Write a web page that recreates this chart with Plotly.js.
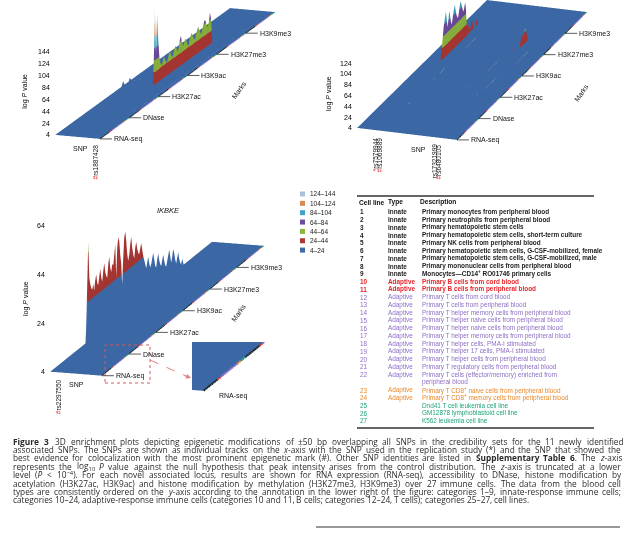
<!DOCTYPE html>
<html><head><meta charset="utf-8">
<script src="https://cdn.plot.ly/plotly-3.0.1.min.js"></script>
<style>html,body{margin:0;padding:0;background:#fff;}#chart{width:631px;height:538px;}</style>
</head><body><div id="chart"></div>
<script>
// ---------- shared categories ----------
const marks = ['RNA-seq','DNase','H3K27ac','H3K9ac','H3K27me3','H3K9me3'];
const cellsPerMark = 27;
const zFloor = 4;
const bandLabels = ['124–144','104–124','84–104','64–84','44–64','24–44','4–24'];
const bandColors = ['#a9c0dc','#d98a52','#42a3c2','#6c4c9c','#8db53f','#ad3733','#3e6cad'];

// ---------- cell-line table ----------
const cellIds = ['1','2','3','4','5','6','7','8','9','10','11','12','13','14','15','16','17','18','19','20','21','22','23','24','25','26','27'];
const cellTypes = ['Innate','Innate','Innate','Innate','Innate','Innate','Innate','Innate','Innate','Adaptive','Adaptive','Adaptive','Adaptive','Adaptive','Adaptive','Adaptive','Adaptive','Adaptive','Adaptive','Adaptive','Adaptive','Adaptive','Adaptive','Adaptive','','',''];
const cellGroups = ['innate','innate','innate','innate','innate','innate','innate','innate','innate','bcell','bcell','tcell','tcell','tcell','tcell','tcell','tcell','tcell','tcell','tcell','tcell','tcell','cd8','cd8','line','line','line'];
const cellDescriptions = [
 'Primary monocytes from peripheral blood',
 'Primary neutrophils from peripheral blood',
 'Primary hematopoietic stem cells',
 'Primary hematopoietic stem cells, short-term culture',
 'Primary NK cells from peripheral blood',
 'Primary hematopoietic stem cells, G-CSF-mobilized, female',
 'Primary hematopoietic stem cells, G-CSF-mobilized, male',
 'Primary mononuclear cells from peripheral blood',
 'Monocytes—CD14<sup>+</sup> RO01746 primary cells',
 'Primary B cells from cord blood',
 'Primary B cells from peripheral blood',
 'Primary T cells from cord blood',
 'Primary T cells from peripheral blood',
 'Primary T helper memory cells from peripheral blood',
 'Primary T helper naive cells from peripheral blood',
 'Primary T helper naive cells from peripheral blood',
 'Primary T helper memory cells from peripheral blood',
 'Primary T helper cells, PMA-I stimulated',
 'Primary T helper 17 cells, PMA-I stimulated',
 'Primary T helper cells from peripheral blood',
 'Primary T regulatory cells from peripheral blood',
 'Primary T cells (effector/memory) enriched from<br>peripheral blood',
 'Primary T CD8<sup>+</sup> naive cells from peripheral blood',
 'Primary T CD8<sup>+</sup> memory cells from peripheral blood',
 'Dnd41 T cell leukemia cell line',
 'GM12878 lymphoblastoid cell line',
 'K562 leukemia cell line'];
const groupNames = ['innate','bcell','tcell','cd8','line'];
const groupColors = ['#1c1c1c','#e5252b','#8f6fc4','#e88a2c','#1ea37c'];

// ---------- panel 1 (rs1887428) ----------
const p1TrackCount = 10;
const p1Snps = ['rs1887428'];
const p1SnpMarks = ['#'];
const p1SnpTracks = [8];
const p1ZTicks = [4,24,44,64,84,104,124,144];
const p1ZMax = 150;
const p1T8DNase    = [4,4,4,6,10,14,18,20,16,12,8,6,4,4,4,8,12,16,14,10,6,4,4,4,6,8,6];
const p1T8H3K27ac  = [60,146,70,138,96,66,52,46,50,58,54,48,44,50,56,60,52,46,50,58,62,56,50,54,66,72,60];
const p1T8H3K9ac   = [52,56,62,58,50,46,54,60,64,58,52,48,56,62,66,60,54,50,58,64,70,66,58,54,62,76,64];
const p1T8H3K27me3 = [20,12,8,6,4,4,6,8,10,8,6,4,4,4,6,8,6,4,4,4,6,4,4,4,4,4,4];
const p1T8H3K9me3  = [4,4,4,6,8,6,4,4,4,4,6,8,10,8,6,4,4,4,4,6,8,6,4,4,4,4,4];
const p1T1H3K27ac  = [4,4,8,14,18,12,6,4,4,10,16,12,6,4,4,4,8,12,8,4,4,4,4,4,4,4,4];

// ---------- panel 2 ----------
const p2TrackCount = 23;
const p2Snps = ['rs7579944','rs1069889','rs17321999','rs6480105'];
const p2SnpMarks = ['*','#','','#'];
const p2SnpTracks = [4,5,17,18];
const p2ZTicks = [4,24,44,64,84,104,124];
const p2ZMax = 130;
const p2T5DNase    = [4,4,4,4,4,4,6,10,12,8,4,4,4,4,4,6,8,6,4,4,4,4,4,4,4,4,4];
const p2T5H3K27ac  = [4,4,4,4,4,4,4,4,4,6,8,10,8,6,4,4,4,4,6,10,16,24,34,48,62,78,88];
const p2T5H3K9ac   = [96,104,88,72,84,98,92,78,70,76,86,94,100,90,80,74,70,78,88,96,92,84,76,72,80,86,70];
const p2T5H3K27me3 = [40,34,38,30,26,32,40,36,28,22,18,26,34,30,24,20,14,10,8,6,4,4,4,4,4,4,4];
const p2T14H3K27ac = [4,4,6,10,14,10,6,4,4,8,12,16,12,8,4,4,6,10,8,4,4,4,6,8,6,4,4];
const p2T14H3K9ac  = [6,10,14,10,6,4,8,12,16,12,8,6,10,14,10,6,4,4,6,8,6,4,4,4,4,4,4];
const p2T17H3K27ac = [4,6,10,14,18,12,8,6,10,16,20,14,8,4,6,12,18,22,16,10,6,4,8,12,10,6,4];
const p2T17H3K9ac  = [8,12,16,20,14,10,6,10,18,24,20,14,8,6,12,18,24,28,20,12,8,6,10,14,10,6,4];
const p2T18H3K9ac  = [6,10,14,12,8,6,10,16,22,18,12,8,14,20,26,22,16,10,14,20,30,38,46,40,30,42,50];
const p2T18H3K27me3= [44,36,28,20,14,10,8,12,18,24,20,14,10,8,6,4,4,4,4,4,4,4,4,4,4,4,4];

// ---------- panel 3 (IKBKE) ----------
const p3Title = 'IKBKE';
const p3TrackCount = 7;
const p3Snps = ['rs2297550'];
const p3SnpMarks = ['#'];
const p3SnpTracks = [1];
const p3ZTicks = [4,24,44,64];
const p3ZMax = 64;
const p3T1DNase    = [4,4,48,33,30,28,27,29,26,30,32,28,27,30,33,29,27,31,34,30,28,27,32,35,30,28,31];
const p3T1H3K27ac  = [30,34,38,4,36,40,38,32,28,4,30,38,40,36,30,27,29,33,36,31,28,26,30,32,29,27,26];
const p3T1H3K9ac   = [28,30,27,24,22,20,18,20,22,19,17,18,20,22,19,16,15,18,20,17,15,14,16,18,15,13,12];
const p3T1H3K27me3 = [14,16,18,15,12,14,17,15,12,10,12,14,11,9,8,10,8,6,5,4,4,4,4,4,4,4,4];

// ---------- tables of tracks built from the arrays ----------
const p1Peaks = [[8,'DNase',p1T8DNase],[8,'H3K27ac',p1T8H3K27ac],[8,'H3K9ac',p1T8H3K9ac],[8,'H3K27me3',p1T8H3K27me3],[8,'H3K9me3',p1T8H3K9me3],[1,'H3K27ac',p1T1H3K27ac]];
const p2Peaks = [[5,'DNase',p2T5DNase],[5,'H3K27ac',p2T5H3K27ac],[5,'H3K9ac',p2T5H3K9ac],[5,'H3K27me3',p2T5H3K27me3],[14,'H3K27ac',p2T14H3K27ac],[14,'H3K9ac',p2T14H3K9ac],[17,'H3K27ac',p2T17H3K27ac],[17,'H3K9ac',p2T17H3K9ac],[18,'H3K9ac',p2T18H3K9ac],[18,'H3K27me3',p2T18H3K27me3]];
const p3Peaks = [[1,'DNase',p3T1DNase],[1,'H3K27ac',p3T1H3K27ac],[1,'H3K9ac',p3T1H3K9ac],[1,'H3K27me3',p3T1H3K27me3]];

const nRows = marks.length*cellsPerMark;
const bandScale = (()=>{const c=bandColors.slice().reverse();const n=c.length;const s=[];c.forEach((col,i)=>{s.push([i/n,col]);s.push([(i+1)/n,col]);});return s;})();

function buildSurface(trackCount, peaks, scene){
  const active = new Set(peaks.map(p=>p[0]));
  const xs=[];
  for(let t=0;t<trackCount;t++){
    if(active.has(t)){ if(t-0.3>=0) xs.push(t-0.3); xs.push(t); if(t+0.3<=trackCount-1) xs.push(t+0.3);} else xs.push(t);
  }
  const ys=[0]; for(let r=0;r<nRows;r++) ys.push(r+0.5); ys.push(nRows);
  const z = ys.map(()=>xs.map(()=>zFloor));
  peaks.forEach(([t,mk,vals])=>{
    const xi = xs.indexOf(t); const m = marks.indexOf(mk);
    vals.forEach((v,c)=>{ z[1+m*cellsPerMark+c][xi]=v; });
  });
  return {type:'surface', scene, x:xs, y:ys, z, cmin:4, cmax:144, colorscale:bandScale, showscale:false,
    hoverinfo:'skip', lighting:{ambient:0.95,diffuse:0.2,specular:0.03,roughness:0.9,fresnel:0.05},
    lightposition:{x:2000,y:-1000,z:10000}};
}
function buildEdge(trackCount, scene, width){
  return groupNames.map((g,gi)=>{
    const xs=[],ys=[],zs=[];
    for(let m=0;m<marks.length;m++) for(let c=0;c<cellsPerMark;c++){
      if(cellGroups[c]!==g) continue;
      const r=m*cellsPerMark+c;
      xs.push(trackCount-1,trackCount-1,null); ys.push(r+0.1,r+0.9,null); zs.push(zFloor+0.05,zFloor+0.05,null);
    }
    return {type:'scatter3d',mode:'lines',scene,x:xs,y:ys,z:zs,line:{color:groupColors[gi],width},hoverinfo:'skip',showlegend:false};
  });
}
function sceneAnn(trackCount, snps, snpMarks, snpTracks, snpShift, marksShift, zTicks, zMax, zTitleShift){
  const a=[];
  marks.forEach((mk,m)=>a.push({x:trackCount-1,y:m*cellsPerMark,z:zFloor,text:mk,showarrow:true,arrowhead:0,arrowwidth:0.8,arrowcolor:'#333',ax:12,ay:0,xanchor:'left',font:{size:7,color:'#111'}}));
  snps.forEach((s,i)=>{
    const txt=(snpMarks[i]?'<span style="color:#e0202a">'+snpMarks[i]+'</span>':'')+s;
    const len=(s.length+(snpMarks[i]?1:0))*3.6;
    a.push({x:snpTracks[i],y:0,z:zFloor,text:txt,textangle:-90,showarrow:false,yshift:-(len/2+6),font:{size:6.5,color:'#111'}});
  });
  a.push({x:(trackCount-1)/2,y:0,z:zFloor,text:'SNP',showarrow:false,xshift:snpShift[0],yshift:snpShift[1],font:{size:7,color:'#111'}});
  a.push({x:trackCount-1,y:nRows/2,z:zFloor,text:'Marks',showarrow:false,xshift:marksShift[0],yshift:marksShift[1],textangle:-55,font:{size:7,color:'#111'}});
  zTicks.forEach(t=>a.push({x:0,y:0,z:t,text:String(t),showarrow:false,xanchor:'right',xshift:-3,font:{size:7,color:'#000'}}));
  a.push({x:0,y:0,z:(zFloor+zMax)/2,text:'log <i>P</i> value',textangle:-90,showarrow:false,xshift:zTitleShift,font:{size:7,color:'#000'}});
  return a;
}
const hidden={visible:false,showspikes:false};
function sceneLayout(dom, ar, center, eye, zmax, trackCount, ann){
  return {domain:dom, aspectmode:'manual', aspectratio:ar,
    camera:{projection:{type:'orthographic'},center,eye,up:{x:0,y:0,z:1}},
    xaxis:Object.assign({range:[-0.01,trackCount-1+0.01]},hidden), yaxis:Object.assign({range:[-0.05,nRows+0.05]},hidden),
    zaxis:Object.assign({range:[zFloor-0.1,zmax]},hidden),
    bgcolor:'rgba(0,0,0,0)', annotations:ann, dragmode:false};
}
const H=538, W=631; const py=v=>1-v/H; const px=v=>v/W;

const data=[
  buildSurface(p1TrackCount,p1Peaks,'scene'), ...buildEdge(p1TrackCount,'scene',2),
  buildSurface(p2TrackCount,p2Peaks,'scene2'), ...buildEdge(p2TrackCount,'scene2',2),
  buildSurface(p3TrackCount,p3Peaks,'scene3'), ...buildEdge(p3TrackCount,'scene3',2),
  buildSurface(p3TrackCount,p3Peaks,'scene4'), ...buildEdge(p3TrackCount,'scene4',4)
];

// ---------- paper annotations ----------
const ann=[];
ann.push({xref:'paper',yref:'paper',x:px(155),y:py(210),text:'<i>'+p3Title+'</i>',showarrow:false,font:{size:7.5,color:'#111'}});
ann.push({xref:'paper',yref:'paper',x:px(233),y:py(402),text:'RNA-seq',showarrow:false,font:{size:7,color:'#111'}});
ann.push({xref:'paper',yref:'paper',x:px(191),y:py(378),ax:px(183),ay:py(375),axref:'paper',ayref:'paper',text:'',showarrow:true,arrowhead:2,arrowsize:1,arrowwidth:1,arrowcolor:'#e08080'});
bandLabels.forEach((b,i)=>ann.push({xref:'paper',yref:'paper',x:px(308),y:py(194+i*9.35),xanchor:'left',text:b,showarrow:false,font:{size:6.5,color:'#222'}}));
// table
const tf='Liberation Sans';
ann.push({xref:'paper',yref:'paper',x:px(357),y:py(202),xanchor:'left',text:'<b>Cell line</b>',showarrow:false,font:{size:6.6,color:'#111',family:tf}});
ann.push({xref:'paper',yref:'paper',x:px(386),y:py(202),xanchor:'left',text:'<b>Type</b>',showarrow:false,font:{size:6.6,color:'#111',family:tf}});
ann.push({xref:'paper',yref:'paper',x:px(418),y:py(202),xanchor:'left',text:'<b>Description</b>',showarrow:false,font:{size:6.6,color:'#111',family:tf}});
let line=0;
cellIds.forEach((id,i)=>{
  const col=groupColors[groupNames.indexOf(cellGroups[i])];
  const bold = (cellGroups[i]==='innate'||cellGroups[i]==='bcell');
  const yv=212+line*7.74;
  const f={size:6.4,color:col,family:tf};
  const w=s=>bold?'<b>'+s+'</b>':s;
  ann.push({xref:'paper',yref:'paper',x:px(358),y:py(yv),xanchor:'left',yanchor:'middle',text:w(id),showarrow:false,font:f});
  if(cellTypes[i]) ann.push({xref:'paper',yref:'paper',x:px(386),y:py(yv),xanchor:'left',yanchor:'middle',text:w(cellTypes[i]),showarrow:false,font:f});
  const desc=cellDescriptions[i].split('<br>');
  desc.forEach((d,k)=>{ann.push({xref:'paper',yref:'paper',x:px(420),y:py(yv+k*7.74),xanchor:'left',yanchor:'middle',text:w(d),showarrow:false,font:f});});
  line+=desc.length;
});
// caption (justified word by word)
const captionLines=[
 '<b>Figure</b> <b>3</b>  3D enrichment plots depicting epigenetic modifications of ±50 bp overlapping all SNPs in the credibility sets for the 11 newly identified',
 'associated SNPs. The SNPs are shown as individual tracks on the <i>x</i>-axis with the SNP used in the replication study (*) and the SNP that showed the',
 'best evidence for colocalization with the most prominent epigenetic mark (#). Other SNP identities are listed in <b>Supplementary</b> <b>Table</b> <b>6</b>. The <i>z</i>-axis',
 'represents the log<sub>10</sub> <i>P</i> value against the null hypothesis that peak intensity arises from the control distribution. The <i>z</i>-axis is truncated at a lower',
 'level (<i>P</i> &lt; 10<sup>−4</sup>). For each novel associated locus, results are shown for RNA expression (RNA-seq), accessibility to DNase, histone modification by',
 'acetylation (H3K27ac, H3K9ac) and histone modification by methylation (H3K27me3, H3K9me3) over 27 immune cells. The data from the blood cell',
 'types are consistently ordered on the <i>y</i>-axis according to the annotation in the lower right of the figure: categories 1–9, innate-response immune cells;',
 'categories 10–24, adaptive-response immune cells (categories 10 and 11, B cells; categories 12–24, T cells); categories 25–27, cell lines.'];
const capFont='Open Sans', capSize=8.3, capLeft=12, capRight=620;
const cv=document.createElement('canvas').getContext('2d');
function measure(html){
  let w=0,bold=false,ital=false,small=false;
  html.split(/(<\/?(?:b|i|sub|sup)>)/).forEach(p=>{
    if(!p) return; const t=p.match(/^<(\/?)(b|i|sub|sup)>$/);
    if(t){const on=!t[1]; if(t[2]==='b') bold=on; else if(t[2]==='i') ital=on; else small=on; return;}
    const txt=p.replace(/&lt;/g,'<').replace(/&gt;/g,'>').replace(/&amp;/g,'&');
    cv.font=(ital?'italic ':'')+(bold?'bold ':'')+(small?capSize*0.7:capSize)+'px "'+capFont+'"';
    w+=cv.measureText(txt).width;});
  return w;
}
cv.font=capSize+'px "'+capFont+'"'; const spaceW=cv.measureText(' ').width;
captionLines.forEach((t,li)=>{
  const words=t.split(' ').filter(s=>s.length);
  const ws=words.map(measure); const tot=ws.reduce((a,b)=>a+b,0);
  const last = li===captionLines.length-1;
  const gap = last? spaceW : (capRight-capLeft-tot)/(words.length-1);
  let x=capLeft;
  words.forEach((wd,k)=>{
    ann.push({xref:'paper',yref:'paper',x:px(x),y:py(441+li*8.4),xanchor:'left',yanchor:'middle',text:wd,showarrow:false,borderpad:0,font:{size:capSize,color:'#2a2a2a',family:capFont}});
    x+=ws[k]+gap + (k===1&&li===0?spaceW:0);
  });
});

const shapes=[];
bandColors.forEach((c,i)=>shapes.push({type:'rect',xref:'paper',yref:'paper',x0:px(300),x1:px(305),y0:py(194+i*9.35-2.5),y1:py(194+i*9.35+2.5),fillcolor:c,line:{width:0}}));
shapes.push({type:'line',xref:'paper',yref:'paper',x0:px(357),x1:px(594),y0:py(196),y1:py(196),line:{color:'#333',width:1.5}});
shapes.push({type:'line',xref:'paper',yref:'paper',x0:px(357),x1:px(594),y0:py(428),y1:py(428),line:{color:'#333',width:1.5}});
shapes.push({type:'line',xref:'paper',yref:'paper',x0:px(316),x1:px(620),y0:py(527),y1:py(527),line:{color:'#333',width:1}});
shapes.push({type:'rect',xref:'paper',yref:'paper',x0:px(105),x1:px(150),y0:py(383),y1:py(345),line:{color:'#d05a5a',width:1,dash:'dot'}});
shapes.push({type:'line',xref:'paper',yref:'paper',x0:px(150),x1:px(186),y0:py(360),y1:py(376),line:{color:'#e08080',width:1,dash:'dash'}});

const layout={width:W,height:H,margin:{l:0,r:0,t:0,b:0},paper_bgcolor:'#fff',showlegend:false,hovermode:false,
  font:{family:'Liberation Sans',color:'#111'},
  scene: sceneLayout({x:[0,px(310)],y:[py(190),1]},{x:0.502,y:5.574,z:0.943},{x:-0.0421,y:-0.1983,z:-0.6596},{x:3.1539,y:-9.3253,z:1.8804},p1ZMax,p1TrackCount,
     sceneAnn(p1TrackCount,p1Snps,p1SnpMarks,p1SnpTracks,[3,-12],[52,-14],p1ZTicks,p1ZMax,-30)),
  scene2: sceneLayout({x:[px(315),1],y:[py(185),1]},{x:1.145,y:4.263,z:0.7833},{x:0.0795,y:-0.1947,z:-0.5735},{x:3.1755,y:-9.0597,z:2.8645},p2ZMax,p2TrackCount,
     sceneAnn(p2TrackCount,p2Snps,p2SnpMarks,p2SnpTracks,[11,-16],[60,-17],p2ZTicks,p2ZMax,-28)),
  scene3: sceneLayout({x:[0,px(330)],y:[py(430),py(195)]},{x:0.463,y:4.662,z:1.2826},{x:0.1130,y:-0.1345,z:-0.6307},{x:2.977,y:-9.3875,z:1.8543},p3ZMax,p3TrackCount,
     sceneAnn(p3TrackCount,p3Snps,p3SnpMarks,p3SnpTracks,[0,-11],[56,-2],p3ZTicks,p3ZMax,-24)),
  scene4: sceneLayout({x:[px(192),px(265)],y:[py(400),py(342)]},{x:2.908,y:29.28,z:8.055},{x:1.4538,y:-11.747,z:-4.013},{x:15.774,y:-58.012,z:8.412},p3ZMax,p3TrackCount,[]),
  annotations:ann, shapes};
Plotly.newPlot('chart',data,layout,{displayModeBar:false,responsive:false});
</script></body></html>
